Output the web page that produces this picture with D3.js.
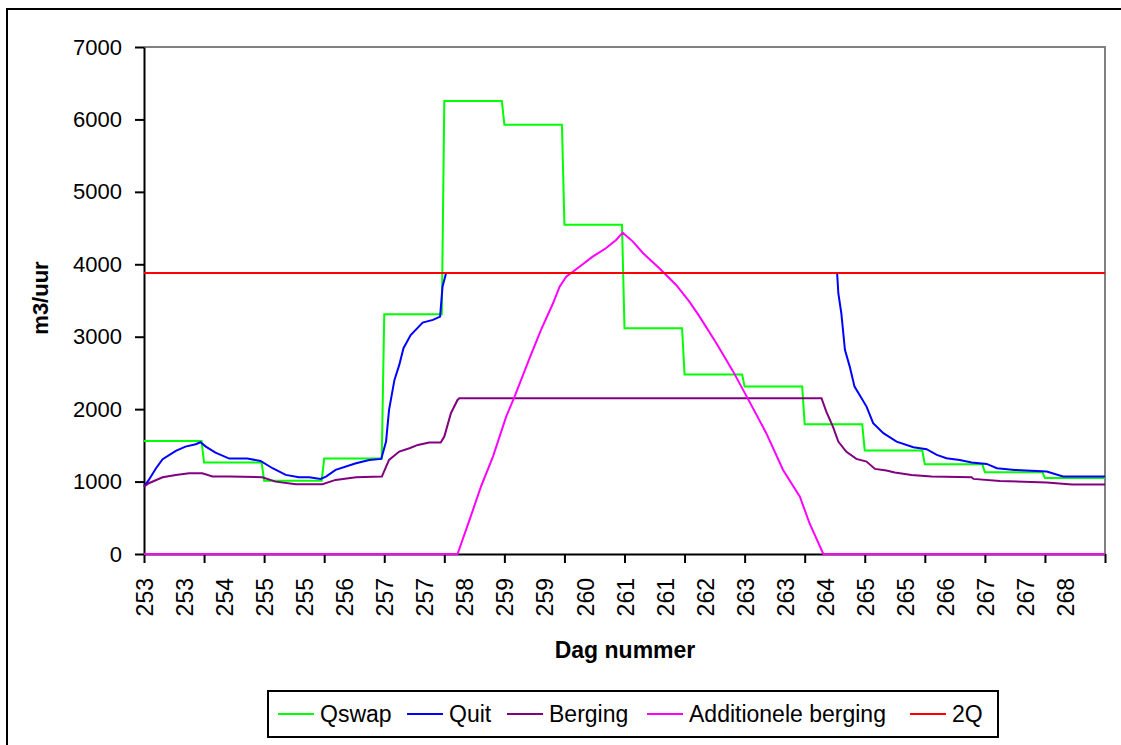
<!DOCTYPE html>
<html>
<head>
<meta charset="utf-8">
<script src="https://cdn.jsdelivr.net/npm/d3@7/dist/d3.min.js"></script>
<style>
  html, body { margin: 0; padding: 0; background: #fff; }
  svg { display: block; font-family: "Liberation Sans", Arial, sans-serif; }
</style>
</head>
<body>
<svg id="chart" width="1121" height="745"></svg>
<script>
// Category labels on the day axis (one label every 16 hours)
const dayLabels = ["253","253","254","255","255","256","257","257","258","259","259","260",
                   "261","261","262","263","263","264","265","265","266","267","267","268"];
const firstDay = 253;
const lastDay = 269;

// Qswap: one value per day (253 ... 268)
const qswapDays  = [253,254,255,256,257,258,259,260,261,262,263,264,265,266,267,268];
const qswapDaily = [1560,1262,1013,1317,3310,6254,5928,4547,3117,2477,2311,1790,1428,1238,1130,1048];

// Quit: [day, m3/uur]; null marks the period without values
const quitPoints = [
  [253.00,930],[253.08,1023],[253.20,1184],[253.31,1309],[253.53,1423],[253.69,1483],
  [253.86,1516],[253.94,1543],[254.03,1483],[254.19,1400],[254.42,1317],[254.72,1317],
  [254.94,1285],[255.14,1184],[255.36,1092],[255.58,1060],[255.75,1060],[255.94,1037],
  [256.03,1069],[256.19,1161],[256.53,1253],[256.75,1299],[256.95,1313],[257.03,1552],
  [257.08,1990],[257.17,2404],[257.25,2611],[257.32,2841],[257.44,3024],[257.64,3195],
  [257.81,3232],[257.93,3277],[257.97,3691],[258.03,3880],
  [261.00,null],
  [264.54,3880],[264.56,3600],[264.61,3324],[264.67,2818],[264.75,2587],[264.83,2311],
  [265.03,2035],[265.14,1806],[265.31,1668],[265.53,1552],[265.81,1475],[266.03,1447],
  [266.20,1368],[266.36,1323],[266.58,1299],[266.78,1262],[267.03,1244],[267.20,1184],
  [267.50,1161],[268.03,1138],[268.30,1069],[269.00,1069]
];

// Berging: [day, m3/uur]
const bergingPoints = [
  [253.00,930],[253.08,977],[253.31,1060],[253.53,1092],[253.75,1115],[253.97,1115],
  [254.14,1069],[254.42,1069],[254.97,1060],[255.19,999],[255.53,964],[255.97,964],
  [256.19,1023],[256.53,1060],[256.96,1069],[257.08,1299],[257.25,1414],[257.42,1460],
  [257.56,1506],[257.75,1538],[257.94,1538],[258.00,1621],[258.11,1944],[258.22,2127],
  [258.25,2150],[264.28,2150],[264.36,1966],[264.47,1759],[264.56,1552],[264.69,1414],
  [264.86,1313],[265.03,1276],[265.17,1175],[265.36,1152],[265.50,1124],[265.78,1092],
  [266.11,1069],[266.78,1060],[266.81,1037],[267.25,1009],[268.03,986],[268.45,960],
  [269.00,960]
];

// Additionele berging: [day, m3/uur]
const additionelePoints = [
  [253.00,0],[258.22,0],[258.42,471],[258.61,930],[258.81,1345],[259.03,1897],
  [259.17,2173],[259.42,2703],[259.61,3094],[259.81,3462],[259.92,3691],[260.03,3829],
  [260.25,3967],[260.47,4105],[260.69,4221],[260.86,4336],[260.97,4437],[261.14,4313],
  [261.31,4152],[261.58,3945],[261.86,3715],[262.08,3484],[262.25,3277],[262.53,2910],
  [262.81,2518],[263.08,2104],[263.36,1668],[263.64,1161],[263.92,792],[264.08,425],
  [264.31,0],[269.00,0]
];

// 2Q: constant level
const twoQ = 3880;

const yTicks = [0,1000,2000,3000,4000,5000,6000,7000];

const seriesStyle = [
  { name: "Qswap", color: "#00ff00" },
  { name: "Quit", color: "#0000ff" },
  { name: "Berging", color: "#800080" },
  { name: "Additionele berging", color: "#ff00ff" },
  { name: "2Q", color: "#ff0000" }
];

const svg = d3.select("#chart");
const plot = { left: 144, right: 1105, top: 47, bottom: 554 };

const x = d3.scaleLinear().domain([firstDay, lastDay]).range([plot.left, plot.right]);
const y = d3.scaleLinear().domain([0, 7000]).range([plot.bottom, plot.top]);

// outer chart frame
svg.append("rect")
  .attr("x", 7).attr("y", 9).attr("width", 1300).attr("height", 900)
  .attr("fill", "none").attr("stroke", "#000").attr("stroke-width", 2);

// plot area frame (top and right edges)
svg.append("path")
  .attr("d", `M${plot.left},${plot.top}H${plot.right}V${plot.bottom}`)
  .attr("fill", "none").attr("stroke", "#808080").attr("stroke-width", 2);

// Y axis
const yAxis = svg.append("g")
  .attr("transform", `translate(${plot.left},0)`)
  .call(d3.axisLeft(y).tickValues(yTicks).tickFormat(d3.format("d"))
    .tickSize(9).tickPadding(13).tickSizeOuter(0));
yAxis.select(".domain").attr("stroke", "#000").attr("stroke-width", 2);
yAxis.selectAll(".tick line").attr("stroke", "#000").attr("stroke-width", 2);
yAxis.selectAll(".tick text")
  .attr("font-family", "'Liberation Sans', Arial, sans-serif")
  .attr("font-size", 22).attr("fill", "#000");

// X axis: a tick mark for every day, labels every 16 hours
const xAxis = svg.append("g")
  .attr("transform", `translate(0,${plot.bottom})`)
  .call(d3.axisBottom(x).tickValues(d3.range(firstDay, lastDay + 1)).tickSize(9).tickFormat("").tickSizeOuter(0));
xAxis.select(".domain").attr("stroke", "#000").attr("stroke-width", 2);
xAxis.selectAll(".tick line").attr("stroke", "#000").attr("stroke-width", 2);

svg.append("g").selectAll("text")
  .data(dayLabels)
  .join("text")
  .attr("transform", (d, i) => `translate(${x(firstDay + i * 16 / 24) + 1},578) rotate(-90)`)
  .attr("text-anchor", "end")
  .attr("dy", "0.35em")
  .attr("font-size", 23)
  .attr("fill", "#000")
  .text(d => d);

// Qswap as daily steps with a one-hour transition
const qswapPts = [];
qswapDays.forEach((d, i) => {
  qswapPts.push([d, qswapDaily[i]]);
  qswapPts.push([d + 1 - 1/24, qswapDaily[i]]);
});
qswapPts.push([lastDay, qswapDaily[qswapDaily.length - 1]]);

const line = d3.line()
  .defined(d => d[1] !== null)
  .x(d => x(d[0]))
  .y(d => y(d[1]));

// series drawn over the axes
const g = svg.append("g");
const dataSets = [
  qswapPts,
  quitPoints,
  bergingPoints,
  additionelePoints,
  [[firstDay, twoQ], [lastDay, twoQ]]
];
dataSets.forEach((pts, i) => {
  g.append("path")
    .datum(pts)
    .attr("d", line)
    .attr("fill", "none")
    .attr("stroke", seriesStyle[i].color)
    .attr("stroke-width", 2)
    .attr("stroke-linejoin", "miter");
});

// Axis titles
svg.append("text")
  .attr("transform", "translate(48,298) rotate(-90)")
  .attr("text-anchor", "middle")
  .attr("font-size", 22).attr("font-weight", "bold")
  .text("m3/uur");

svg.append("text")
  .attr("x", 625).attr("y", 658)
  .attr("text-anchor", "middle")
  .attr("font-size", 23).attr("font-weight", "bold")
  .text("Dag nummer");

// Legend
const legend = svg.append("g");
legend.append("rect")
  .attr("x", 268).attr("y", 691).attr("width", 730).attr("height", 46)
  .attr("fill", "#fff").attr("stroke", "#000").attr("stroke-width", 2);
const legendX = [278, 407, 507, 647, 910];
seriesStyle.forEach((s, i) => {
  const lx = legendX[i];
  legend.append("line")
    .attr("x1", lx).attr("x2", lx + 36)
    .attr("y1", 714).attr("y2", 714)
    .attr("stroke", s.color).attr("stroke-width", 2);
  legend.append("text")
    .attr("x", lx + 42).attr("y", 722)
    .attr("font-size", 23).attr("fill", "#000")
    .text(s.name);
});
</script>
</body>
</html>
